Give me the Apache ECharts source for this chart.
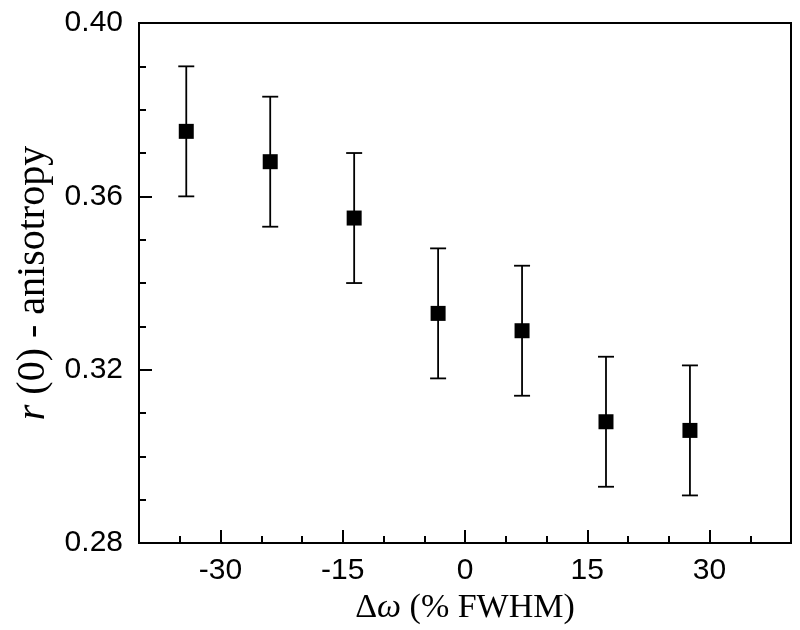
<!DOCTYPE html>
<html>
<head>
<meta charset="utf-8">
<script src="https://cdn.jsdelivr.net/npm/echarts@6/dist/echarts.min.js"></script>
<style>html,body{margin:0;padding:0;background:#fff}#c{width:800px;height:630px}</style>
</head>
<body>
<div id="c"></div>
<script>
const xVals = [-34.2, -23.9, -13.6, -3.3, 7.0, 17.3, 27.6];
const yVals = [0.375, 0.368, 0.355, 0.333, 0.329, 0.308, 0.306];
const errVals = [0.015, 0.015, 0.015, 0.015, 0.015, 0.015, 0.015];
const xMajorTicks = [-30, -15, 0, 15, 30];
const xMinorStep = 5;
const xRange = [-40, 40];
const yRange = [0.28, 0.40];
const yStep = 0.04;

const points = xVals.map((x, i) => [x, yVals[i]]);
const bars = xVals.map((x, i) => [x, yVals[i] - errVals[i], yVals[i] + errVals[i]]);

const chart = echarts.init(document.getElementById('c'));
const labelFont = { fontFamily: 'Liberation Sans', fontSize: 30, color: '#000' };
chart.setOption({
  animation: false,
  grid: { left: 139, top: 23, right: 9, bottom: 82, show: true, borderColor: '#000', borderWidth: 2, backgroundColor: 'transparent' },
  xAxis: [{
    type: 'value', min: xRange[0], max: xRange[1],
    name: '{d|Δ}{i|ω}{d| (% FWHM)}', nameLocation: 'middle', nameGap: 41,
    nameTextStyle: { rich: {
      d: { fontFamily: 'Liberation Serif', fontSize: 34, color: '#000' },
      i: { fontFamily: 'Liberation Serif', fontSize: 34, fontStyle: 'italic', color: '#000' } } },
    axisLine: { onZero: false, lineStyle: { color: '#000', width: 2 } },
    axisTick: { inside: true, length: 13, lineStyle: { color: '#000', width: 2 }, customValues: xMajorTicks },
    axisLabel: Object.assign({ margin: 13, customValues: xMajorTicks }, labelFont),
    splitLine: { show: false }
  }, {
    type: 'value', min: xRange[0], max: xRange[1], interval: xMinorStep, position: 'bottom',
    axisLine: { show: false, onZero: false },
    axisTick: { inside: true, length: 7, lineStyle: { color: '#000', width: 2 } },
    axisLabel: { show: false },
    splitLine: { show: false }
  }],
  yAxis: {
    type: 'value', min: yRange[0], max: yRange[1], interval: yStep,
    name: '{i|r}{d| (0) - anisotropy}', nameLocation: 'middle', nameGap: 84,
    nameTextStyle: { rich: {
      d: { fontFamily: 'Liberation Serif', fontSize: 40, color: '#000' },
      i: { fontFamily: 'Liberation Serif', fontSize: 40, fontStyle: 'italic', color: '#000' } } },
    axisLine: { onZero: false, lineStyle: { color: '#000', width: 2 } },
    axisTick: { inside: true, length: 13, lineStyle: { color: '#000', width: 2 } },
    minorTick: { show: true, splitNumber: 4, length: 7, lineStyle: { color: '#000', width: 2 } },
    axisLabel: Object.assign({ margin: 16, formatter: v => v.toFixed(2) }, labelFont),
    splitLine: { show: false }
  },
  series: [{
    type: 'custom',
    data: bars,
    renderItem: function (params, api) {
      const x = api.value(0);
      const lo = api.coord([x, api.value(1)]);
      const hi = api.coord([x, api.value(2)]);
      const hw = 8;
      const st = { stroke: '#000', lineWidth: 1.8 };
      return { type: 'group', children: [
        { type: 'line', shape: { x1: lo[0], y1: lo[1], x2: hi[0], y2: hi[1] }, style: st },
        { type: 'line', shape: { x1: lo[0] - hw, y1: lo[1], x2: lo[0] + hw, y2: lo[1] }, style: st },
        { type: 'line', shape: { x1: hi[0] - hw, y1: hi[1], x2: hi[0] + hw, y2: hi[1] }, style: st }
      ] };
    },
    z: 2
  }, {
    type: 'scatter',
    data: points,
    symbol: 'rect', symbolSize: 15,
    itemStyle: { color: '#000', opacity: 1 },
    z: 3
  }]
});
</script>
</body>
</html>
